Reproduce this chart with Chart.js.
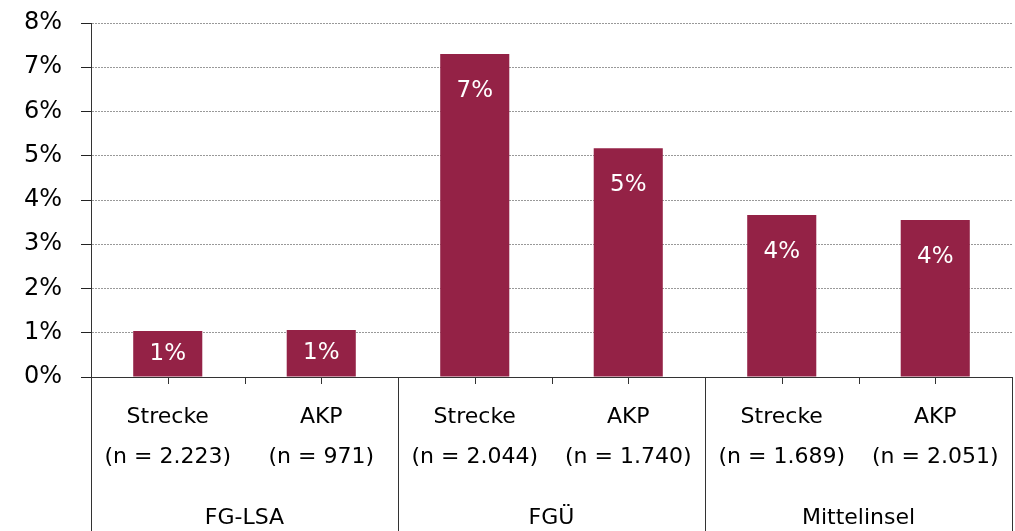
<!DOCTYPE html>
<html>
<head>
<meta charset="utf-8">
<script src="https://cdn.jsdelivr.net/npm/chart.js@4/dist/chart.umd.min.js"></script>
<style>
  html, body { margin: 0; padding: 0; background: #fff; }
  #wrap { width: 1015px; height: 531px; }
</style>
</head>
<body>
<div id="wrap"><canvas id="chart" width="1015" height="531"></canvas></div>
<script>
// 데이터
const categories = [
  ["Strecke", "(n = 2.223)"],
  ["AKP", "(n = 971)"],
  ["Strecke", "(n = 2.044)"],
  ["AKP", "(n = 1.740)"],
  ["Strecke", "(n = 1.689)"],
  ["AKP", "(n = 2.051)"],
];
const groups = ["FG-LSA", "FGÜ", "Mittelinsel"];
const groupSize = 2;
const values = [1.04, 1.06, 7.3, 5.17, 3.66, 3.55];
const yTicks = [0, 1, 2, 3, 4, 5, 6, 7, 8];

const barColor = "#942246";
const fontFamily = "'DejaVu Sans', sans-serif";

// 막대 안 라벨
const barLabels = {
  id: "barLabels",
  afterDatasetsDraw(chart) {
    const ctx = chart.ctx;
    const meta = chart.getDatasetMeta(0);
    ctx.save();
    ctx.fillStyle = "#fff";
    ctx.font = `23px ${fontFamily}`;
    ctx.textAlign = "center";
    ctx.textBaseline = "middle";
    meta.data.forEach((bar, i) => {
      const mid = (bar.y + bar.base) / 2;
      const y = Math.min(bar.y + 37, mid);
      ctx.fillText(`${Math.round(values[i])}%`, bar.x, y);
    });
    ctx.restore();
  },
};

// 그룹 구분선 + 그룹 라벨
const groupAxis = {
  id: "groupAxis",
  afterDraw(chart) {
    const ctx = chart.ctx;
    const x = chart.scales.x;
    const area = chart.chartArea;
    const half = (area.right - area.left) / categories.length / 2;
    ctx.save();
    ctx.strokeStyle = "#333";
    ctx.lineWidth = 1;
    // 작은 눈금 (반 칸마다)
    for (let i = 0; i <= categories.length * 2; i++) {
      const px = Math.round(area.left + i * half) + 0.5;
      const isGroup = i % (groupSize * 2) === 0;
      ctx.beginPath();
      ctx.moveTo(px, area.bottom);
      ctx.lineTo(px, isGroup ? chart.height : area.bottom + 7);
      ctx.stroke();
    }
    ctx.fillStyle = "#000";
    ctx.font = `22px ${fontFamily}`;
    ctx.textAlign = "center";
    ctx.textBaseline = "middle";
    groups.forEach((g, gi) => {
      const a = x.getPixelForValue(gi * groupSize);
      const b = x.getPixelForValue(gi * groupSize + groupSize - 1);
      ctx.fillText(g, (a + b) / 2, 518);
    });
    ctx.restore();
  },
};

// 스케일 여백 없애기
function noPadding(scale) {
  scale.paddingTop = 0;
  scale.paddingBottom = 0;
  scale.paddingLeft = 0;
  scale.paddingRight = 0;
}

const config = {
  type: "bar",
  data: {
    labels: categories,
    datasets: [
      {
        data: values,
        backgroundColor: barColor,
        borderWidth: 0,
        categoryPercentage: 1,
        barPercentage: 0.45,
      },
    ],
  },
  options: {
    responsive: false,
    animation: false,
    layout: { padding: { top: 23, right: 3, left: 0, bottom: 0 } },
    plugins: {
      legend: { display: false },
      tooltip: { enabled: false },
    },
    scales: {
      x: {
        grid: { display: false, drawTicks: false },
        border: { display: true, color: "#333", width: 1 },
        ticks: {
          color: "#000",
          font: { family: fontFamily, size: 22, lineHeight: 1.82 },
          padding: 20,
          maxRotation: 0,
          autoSkip: false,
        },
        afterFit(scale) {
          scale.height = 154;
          noPadding(scale);
        },
      },
      y: {
        min: 0,
        max: 8,
        afterBuildTicks(scale) {
          scale.ticks = yTicks.map((v) => ({ value: v }));
        },
        grid: {
          color: "#999",
          lineWidth: 1,
          drawTicks: true,
          tickLength: 10,
          tickColor: "#222",
          tickBorderDash: [],
        },
        border: { display: true, color: "#333", width: 1, dash: [2, 1] },
        ticks: {
          color: "#000",
          font: { family: fontFamily, size: 24 },
          padding: 19,
          callback: (v) => `${v}%`,
        },
        afterFit(scale) {
          scale.width = 91;
          noPadding(scale);
        },
      },
    },
  },
  plugins: [barLabels, groupAxis],
};

new Chart(document.getElementById("chart").getContext("2d"), config);
</script>
</body>
</html>
